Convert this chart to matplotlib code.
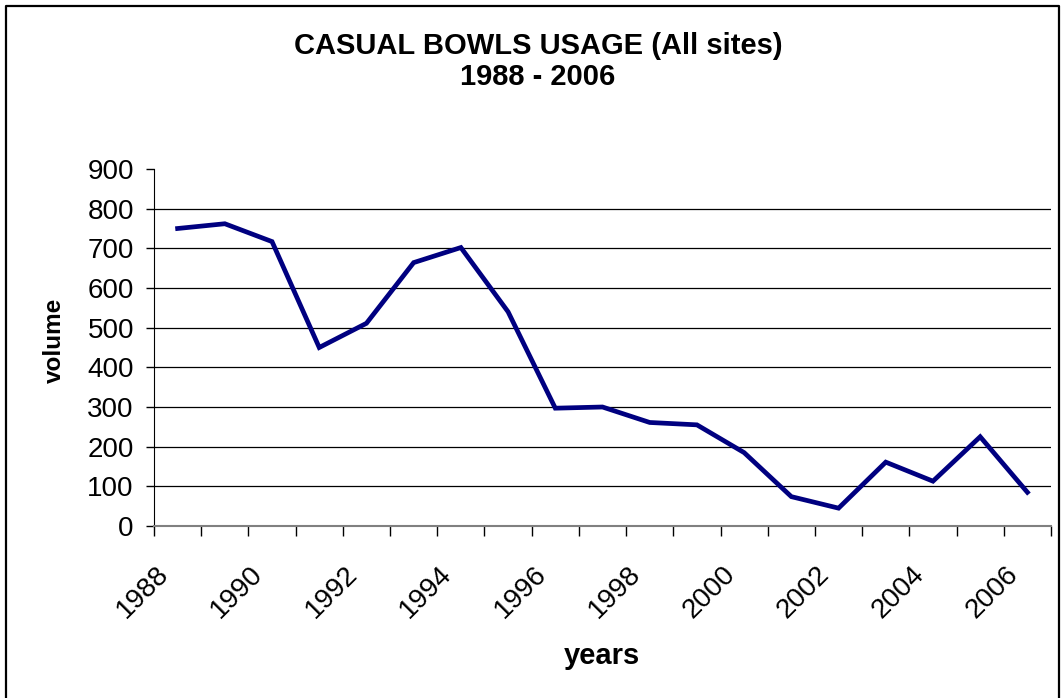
import numpy as np
import matplotlib
matplotlib.use("Agg")
import matplotlib.pyplot as plt
import matplotlib.transforms as mtransforms
from matplotlib.lines import Line2D

years = list(range(1988, 2007))
volume = [750, 762, 717, 450, 511, 664, 702, 540, 297, 300,
          261, 255, 185, 74, 45, 161, 113, 225, 85]
year_labels = [str(y) for y in years[::2]]

plt.rcParams['font.family'] = ['Liberation Sans', 'DejaVu Sans']

W, H = 1061, 698
fig = plt.figure(figsize=(W / 100, H / 100), dpi=100)
ax = fig.add_axes([154 / W, 1 - 526 / H, 897 / W, 357 / H])

x = np.arange(len(years))
ax.plot(x, volume, color='#000080', lw=3.4, solid_joinstyle='miter')

ax.set_xlim(-0.5, len(years) - 0.5)
ax.set_ylim(0, 900)

# horizontal gridlines, none at the top
for v in range(100, 900, 100):
    ax.axhline(v, color='black', lw=0.9, zorder=0)

ax.set_yticks(range(0, 1000, 100))
ax.tick_params(axis='y', direction='out', length=6, width=1, labelsize=20, pad=8.5)

ax.set_xticks(x[::2])
ax.set_xticks(np.arange(-0.5, len(years)), minor=True)
ax.tick_params(axis='x', which='major', length=0, pad=25)
ax.tick_params(axis='x', which='minor', direction='out', length=7, width=1)
ax.set_xticklabels(year_labels, rotation=45, ha='right', va='top',
                   rotation_mode='anchor', fontsize=20)
# year labels sit a bit left of their category centre
shift = mtransforms.ScaledTranslation(-22 / 100, 0, fig.dpi_scale_trans)
for lab in ax.get_xticklabels():
    lab.set_transform(lab.get_transform() + shift)

for side in ('top', 'right'):
    ax.spines[side].set_visible(False)
ax.spines['left'].set_color('black')
ax.spines['bottom'].set_color('#808080')
ax.spines['bottom'].set_linewidth(1.5)

fig.text(54 / W, 1 - 340 / H, 'volume', rotation=90, ha='center', va='center',
         fontsize=17.5, fontweight='bold')
fig.text(602 / W, 1 - 656 / H, 'years', ha='center', va='center',
         fontsize=21, fontweight='bold')

fig.text(538 / W, 1 - 54 / H, 'CASUAL BOWLS USAGE (All sites)',
         ha='center', va='baseline', fontsize=21, fontweight='bold')
fig.text(538 / W, 1 - 85 / H, '1988 - 2006',
         ha='center', va='baseline', fontsize=21, fontweight='bold')

# chart border
fig.lines.append(Line2D([6 / W, 6 / W, 1059 / W, 1059 / W],
                        [0, 1 - 6 / H, 1 - 6 / H, 0],
                        transform=fig.transFigure, color='black', lw=1.6))

fig.savefig('out.png', dpi=100, facecolor='white')
